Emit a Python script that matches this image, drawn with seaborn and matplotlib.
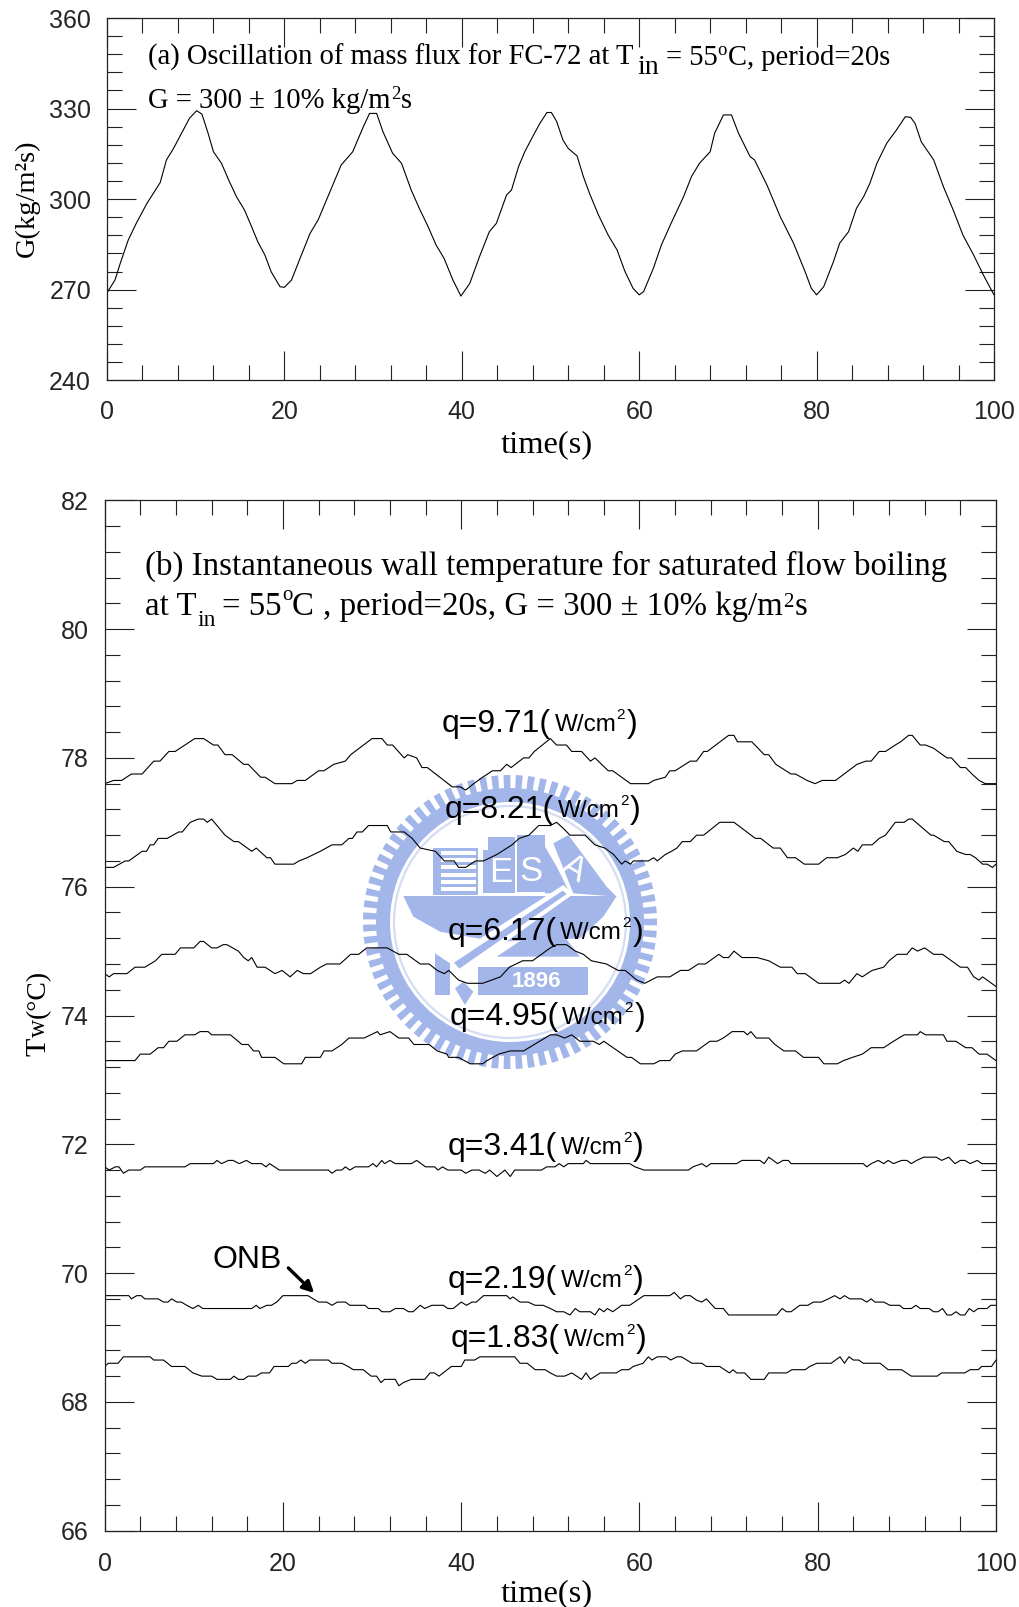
import numpy as np
import pandas as pd
import seaborn as sns
import matplotlib.pyplot as plt
from matplotlib.patches import Polygon, Wedge, Circle
from matplotlib.ticker import MultipleLocator

W, H = 1019, 1607

# (a) mass flux, time / G pairs
mass_flux = [(0,269),(.9,273.2),(1.5,278.8),(2.4,286.5),(3.3,292),(4.5,298.6),(6,305.5),(6.7,313),(7.5,316.8),(8.4,321.8),
    (9.3,326.8),(10.1,329.3),(10.7,328.2),(11.4,321.8),(12,315.7),(12.9,311.9),(13.8,305.8),(14.6,300.8),(15.5,296.4),
    (16.3,290.9),(17,285.9),(17.8,281.5),(18.5,276),(19.5,271),(20,270.8),(20.8,273.2),(21.7,279.9),(22.9,288.7),(23.8,293.1),
    (24.9,300.8),(26.4,311.3),(27.7,315.7),(28.9,324),(29.6,328.4),(30.4,328.4),(31.1,322.4),(32.2,315.2),(33.2,311.9),
    (34.3,303),(35.2,297),(36.2,290.9),(37.1,284.8),(38,280.4),(39,273.2),(39.9,267.9),(40.9,272.1),(42,281),(43.1,289.2),
    (43.9,292),(44.3,295.3),(45.05,301.4),(45.6,303),(46.4,310.8),(47.1,315.7),(48.1,321.3),(48.8,325.1),(49.6,328.7),(50.1,328.7),
    (50.7,325.7),(51.4,319.6),(52,316.8),(53,314.3),(53.7,307.5),(54.4,301.9),(55.4,294.8),(56.5,288.1),(57.5,283.2),(58.4,276),
    (59.3,270.5),(60,268.3),(60.5,269.4),(61.6,277.1),(62.5,284.8),(63.5,291.4),(65,300.8),(65.9,307.5),(66.8,311.9),(68,315.7),
    (68.5,321.8),(69.5,327.9),(70.4,327.9),(71.2,321.8),(72.5,314.1),(73,313),(74.4,304.7),(75.9,294.2),(77.4,285.4),(78.7,276),
    (79.4,270.5),(80,268.3),(80.8,271),(81.9,279.3),(82.6,285.4),(83.6,289.2),(84.5,297),(85.3,300.8),(86,305.2),(86.8,311.9),
    (87.9,318.5),(89,322.9),(90,327.3),(90.6,327.1),(91.1,325.1),(91.8,319),(93.2,313),(94.3,304.1),(95.4,296.4),(96.5,288.1),
    (97.7,281.5),(98.8,274.9),(100,268.3)]

# (b) wall temperature, time / Tw pairs for each heat flux
q971 = [(0,77.6),(1,77.65),(1.9,77.65),(3,77.75),(4.2,77.75),(5.5,77.95),(6.2,77.95),(7.2,78.1),(7.9,78.1),(10.1,78.3),(11.1,78.3),
    (12.2,78.2),(12.7,78.2),(13.5,78.05),(14.3,78.05),(15.6,77.9),(16.1,77.9),(17.5,77.7),(18,77.7),(19.1,77.6),(21,77.6),(21.6,77.65),
    (22.5,77.65),(24,77.8),(24.6,77.8),(25.7,77.9),(27,77.95),(27.6,78.05),(30,78.3),(31.1,78.3),(31.7,78.2),(32.3,78.2),(33.6,78.0),
    (34,78.05),(35,78.0),(35.6,77.85),(36.2,77.85),(39,77.55),(39.9,77.55),(40.5,77.5),(41.4,77.6),(42.4,77.7),(43.5,77.8),(44.4,77.8),
    (45.1,77.9),(45.6,77.85),(47,78.0),(47.6,78.0),(48.2,78.1),(50,78.3),(50.7,78.2),(51.8,78.2),(52.4,78.1),(53.5,78.1),(54.5,77.95),
    (55,78.0),(56.5,77.8),(57,77.8),(59,77.6),(61,77.6),(61.6,77.65),(62.9,77.7),(63.4,77.8),(64,77.8),(65.7,77.95),(66.4,77.95),
    (67.2,78.1),(67.6,78.1),(70,78.35),(70.6,78.35),(71,78.25),(72.6,78.25),(74,78.05),(74.5,78.05),(75.3,77.9),(77,77.75),(77.5,77.75),
    (78.8,77.65),(79.7,77.6),(80.5,77.65),(82,77.65),(84.4,77.9),(85.4,77.95),(86,77.95),(86.9,78.1),(87.6,78.1),(88.7,78.2),(89.3,78.25),
    (90.2,78.35),(90.6,78.35),(91.5,78.2),(92.1,78.2),(93,78.15),(94.5,78.0),(95,78.0),(96,77.85),(96.6,77.85),(97.3,77.75),(98.1,77.65),
    (98.8,77.6),(100,77.6)]
q821 = [(0,76.3),(1,76.3),(2.3,76.4),(2.7,76.4),(4.2,76.55),(4.7,76.55),(5.1,76.65),(5.5,76.65),(6,76.75),(7,76.75),(8.3,76.85),(8.7,76.85),
    (9.6,77.0),(10.5,77.05),(11.1,77.05),(11.5,77.0),(12,77.05),(13.5,76.8),(14.5,76.7),(15,76.7),(16.5,76.55),(17,76.6),(18.2,76.45),
    (18.6,76.45),(19.1,76.35),(21.2,76.35),(21.8,76.4),(22.7,76.45),(24.2,76.55),(25.5,76.65),(26.6,76.65),(27.4,76.75),(27.8,76.75),
    (28.3,76.85),(28.9,76.85),(29.6,76.95),(31.7,76.95),(32.1,76.85),(33.6,76.85),(34.5,76.75),(35.4,76.6),(37.1,76.55),(38.1,76.4),
    (39.2,76.4),(39.7,76.3),(40.5,76.3),(41.6,76.4),(42.5,76.4),(44,76.5),(45.7,76.65),(46.5,76.75),(47.6,76.8),(48.7,76.95),(50,76.95),
    (50.7,77.0),(51.5,76.9),(52.2,76.8),(53.9,76.8),(55,76.65),(56.1,76.6),(57.1,76.5),(58,76.35),(58.4,76.4),(59,76.35),(59.3,76.4),
    (61,76.4),(61.6,76.45),(62,76.4),(62.9,76.5),(63.6,76.55),(64.2,76.6),(64.8,76.7),(65.7,76.7),(66.4,76.8),(67.2,76.8),(69,77.0),
    (70.6,77.0),(73,76.75),(73.6,76.75),(75,76.6),(75.8,76.6),(76.6,76.45),(77.5,76.45),(78.5,76.35),(80.1,76.35),(81,76.45),(82.2,76.45),
    (83.1,76.5),(84,76.6),(84.5,76.55),(85,76.65),(86.1,76.65),(86.9,76.75),(87.6,76.8),(88.7,77.0),(89.7,77.0),(90.2,77.05),(90.6,77.05),
    (92.7,76.8),(93,76.8),(94.2,76.7),(94.7,76.7),(95.6,76.55),(96.6,76.5),(97.1,76.5),(97.7,76.45),(98.5,76.35),(99,76.35),(99.6,76.3),(100,76.35)]
q617 = [(0,74.65),(.5,74.6),(1,74.65),(2.5,74.65),(3.4,74.75),(4.5,74.75),(5.7,74.85),(6.4,74.95),(7.9,74.95),(8.5,75.05),(10,75.05),
    (10.7,75.15),(11.1,75.15),(12,75.05),(12.6,75.05),(13.3,75.1),(13.7,75.1),(15,75.0),(15.6,74.9),(16.1,74.85),(16.5,74.9),(17.1,74.75),
    (18,74.75),(19.1,74.65),(19.9,74.7),(20.8,74.6),(21.6,74.7),(22.3,74.65),(23.1,74.65),(24.2,74.75),(24.9,74.8),(26.4,74.8),(27.6,74.95),
    (28.5,74.95),(29.4,75.05),(31.7,75.05),(33,74.95),(33.9,74.95),(35.4,74.8),(36.4,74.8),(37.3,74.7),(38.1,74.65),(38.6,74.7),(39.7,74.55),
    (40.7,74.5),(42.4,74.5),(44.4,74.6),(45.4,74.75),(46.9,74.85),(48,74.85),(50,75.05),(50.7,75.1),(51.8,75.1),(52.8,75.0),(53.7,74.95),
    (54.6,74.85),(56.3,74.8),(57.6,74.7),(58.4,74.7),(59.7,74.55),(60.6,74.5),(62,74.6),(63.4,74.6),(64.6,74.7),(65.5,74.7),(66.6,74.8),
    (67.4,74.8),(68.9,74.95),(69.4,74.9),(70,74.9),(70.6,75.0),(71.5,74.9),(73.2,74.9),(74.5,74.85),(75.8,74.75),(77.1,74.75),(77.7,74.65),
    (78.6,74.65),(80.1,74.5),(82.5,74.5),(83,74.55),(83.5,74.5),(84.4,74.65),(85,74.6),(86.1,74.7),(87.4,74.75),(88,74.85),(88.9,74.95),
    (90,74.95),(90.6,75.05),(91.2,75.0),(92,75.05),(93,74.95),(94,74.95),(96,74.75),(96.8,74.75),(97.5,74.6),(98.1,74.55),(98.5,74.6),(100,74.45)]
q495 = [(0,73.3),(3.4,73.3),(4,73.4),(5.1,73.4),(6,73.5),(6.6,73.5),(7.2,73.6),(8.1,73.6),(9,73.7),(10.1,73.7),(10.7,73.75),(11.6,73.75),
    (12,73.7),(14.1,73.7),(15.4,73.55),(16.1,73.55),(16.7,73.45),(17.3,73.45),(17.6,73.35),(19.1,73.35),(20.1,73.25),(22.1,73.25),(22.5,73.35),
    (24.2,73.35),(24.6,73.45),(25.5,73.45),(26.6,73.55),(27.4,73.65),(29.1,73.65),(30.6,73.75),(30.9,73.7),(32,73.75),(33,73.65),(34.1,73.65),
    (34.7,73.55),(36.4,73.55),(37.3,73.45),(38.4,73.4),(38.6,73.35),(39.7,73.35),(41,73.25),(42.4,73.25),(42.9,73.3),(44.2,73.4),(45.5,73.45),
    (47,73.45),(48.2,73.55),(50,73.7),(50.7,73.7),(51.6,73.65),(52.4,73.7),(53.3,73.6),(53.9,73.6),(54.8,73.6),(55.5,73.55),(56,73.6),
    (58.6,73.35),(59.1,73.35),(60.1,73.25),(61.6,73.25),(62.3,73.3),(63.4,73.3),(64,73.4),(64.8,73.45),(66.4,73.45),(67.9,73.6),(68.7,73.6),
    (69.4,73.65),(70.4,73.75),(71.7,73.75),(72.1,73.7),(72.5,73.75),(73.1,73.65),(74.5,73.65),(75.2,73.55),(76.2,73.45),(77.5,73.45),(78.4,73.35),
    (80.1,73.35),(80.7,73.25),(82.2,73.25),(82.9,73.3),(83.9,73.35),(85,73.4),(86,73.5),(87.4,73.5),(88.5,73.6),(89.7,73.7),(91.2,73.7),
    (91.5,73.75),(92.1,73.7),(94.1,73.7),(94.5,73.6),(95.5,73.6),(96.6,73.5),(97.3,73.5),(98.1,73.4),(99,73.4),(100,73.3)]
q341 = [(0,71.65),(.5,71.6),(1.2,71.65),(1.6,71.65),(2.1,71.55),(2.7,71.6),(4,71.6),(4.5,71.65),(9,71.65),(9.6,71.7),(12.2,71.7),(12.6,71.75),
    (13.1,71.7),(13.9,71.75),(14.4,71.75),(15.1,71.7),(15.9,71.75),(16.5,71.7),(17.6,71.7),(18.1,71.65),(18.5,71.7),(19.6,71.6),(25.1,71.6),
    (25.5,71.55),(26,71.6),(26.6,71.6),(27,71.65),(27.5,71.6),(28.1,71.65),(29.6,71.65),(30.1,71.7),(30.5,71.65),(31.1,71.75),(31.4,71.7),
    (32,71.75),(32.6,71.7),(34.4,71.7),(35,71.75),(36,71.65),(37,71.65),(37.4,71.6),(37.9,71.65),(38.5,71.6),(40,71.6),(40.5,71.55),(41.2,71.6),
    (42,71.6),(42.7,71.55),(43.2,71.6),(44,71.5),(44.9,71.6),(45.5,71.5),(46,71.6),(46.6,71.6),(49,71.6),(49.6,71.65),(50.5,71.65),(51,71.7),
    (51.5,71.65),(52,71.7),(53.7,71.7),(54,71.75),(54.5,71.7),(58.9,71.7),(59.5,71.65),(60.5,71.6),(65.5,71.6),(66,71.65),(67,71.7),(67.5,71.65),
    (68,71.7),(70.9,71.7),(71.5,71.75),(73.5,71.75),(74,71.7),(74.5,71.8),(75.5,71.7),(76.1,71.75),(76.7,71.75),(77,71.7),(85.1,71.7),(85.5,71.65),
    (86,71.7),(86.8,71.75),(87.4,71.7),(87.9,71.75),(88.5,71.7),(89.4,71.75),(90,71.75),(90.5,71.7),(91.1,71.75),(91.9,71.8),(93.3,71.8),(93.9,71.75),
    (94.7,71.8),(95.4,71.7),(96,71.75),(96.5,71.75),(97.1,71.7),(97.9,71.75),(98.4,71.7),(100,71.7)]
q219 = [(0,69.65),(2.7,69.65),(3,69.6),(3.6,69.65),(4.1,69.65),(4.5,69.6),(6,69.6),(6.6,69.55),(7.1,69.55),(7.5,69.6),(8.1,69.55),(8.6,69.55),
    (9.2,69.5),(9.9,69.45),(10.5,69.5),(11,69.45),(16.5,69.45),(17,69.5),(17.4,69.45),(18.2,69.5),(18.7,69.5),(19.3,69.55),(20,69.65),(22.8,69.65),
    (24,69.55),(24.9,69.55),(25.5,69.5),(26.1,69.55),(27,69.55),(27.5,69.5),(29.2,69.5),(29.6,69.45),(30.7,69.45),(31.1,69.4),(32,69.4),(32.6,69.45),
    (33.5,69.45),(34.1,69.4),(34.6,69.4),(35.4,69.5),(35.9,69.45),(36.7,69.5),(38,69.5),(38.5,69.45),(39.1,69.45),(40,69.55),(40.6,69.5),(41.2,69.55),
    (41.7,69.55),(42.5,69.65),(45.1,69.65),(45.5,69.6),(45.8,69.63),(46.6,69.55),(47.5,69.55),(48.3,69.5),(49.2,69.5),(50,69.45),(50.7,69.4),(51.5,69.4),
    (52.2,69.35),(52.8,69.45),(53.3,69.4),(54.5,69.4),(55,69.35),(55.5,69.45),(56,69.4),(56.4,69.45),(57,69.4),(58,69.5),(58.9,69.5),(60.5,69.65),
    (63.4,69.65),(63.9,69.7),(64.6,69.6),(65.1,69.65),(65.7,69.65),(66.4,69.58),(67,69.55),(67.5,69.6),(68.5,69.45),(69.4,69.45),(70,69.35),(75.4,69.35),
    (76,69.45),(76.5,69.4),(77,69.4),(78,69.5),(78.9,69.5),(79.5,69.55),(80.4,69.55),(81.2,69.6),(81.9,69.65),(82.5,69.6),(83,69.65),(83.6,69.6),
    (84.9,69.6),(85.5,69.55),(86,69.6),(86.4,69.55),(87.4,69.55),(88.1,69.5),(89.2,69.5),(89.6,69.45),(90.5,69.45),(91,69.5),(91.5,69.45),(92.5,69.45),
    (93,69.4),(93.5,69.4),(94,69.45),(94.5,69.35),(95,69.35),(95.5,69.4),(96,69.35),(96.5,69.35),(97,69.45),(97.5,69.4),(98,69.45),(99,69.45),(99.4,69.5),(100,69.5)]
q183 = [(0,68.55),(.4,68.6),(1.5,68.6),(2.1,68.7),(5.1,68.7),(5.5,68.65),(6.6,68.65),(7.5,68.55),(9,68.55),(9.9,68.45),(10.9,68.4),(12,68.4),
    (12.6,68.35),(14.1,68.35),(14.5,68.4),(15,68.35),(15.6,68.35),(16.1,68.4),(17,68.4),(17.6,68.45),(18.5,68.45),(19,68.55),(20.6,68.55),(21,68.6),
    (21.5,68.6),(22,68.65),(22.5,68.6),(23,68.65),(25.1,68.65),(25.5,68.6),(26.6,68.6),(27.3,68.55),(27.9,68.5),(29,68.5),(29.9,68.4),(30.5,68.4),
    (31,68.3),(31.4,68.35),(32.6,68.35),(33,68.25),(33.5,68.3),(34.4,68.35),(35.9,68.35),(36.5,68.45),(37,68.45),(37.5,68.4),(38.9,68.55),(40,68.55),
    (40.4,68.65),(41.5,68.65),(42.1,68.7),(46,68.7),(46.6,68.6),(47.4,68.6),(48.3,68.5),(49.4,68.5),(50,68.45),(50.7,68.4),(51.6,68.4),(52.4,68.45),
    (53.5,68.35),(54,68.45),(54.5,68.35),(55.6,68.45),(57.4,68.45),(58,68.5),(58.8,68.5),(59.3,68.55),(60.4,68.6),(61,68.7),(61.4,68.65),(62,68.7),
    (63,68.7),(63.5,68.65),(64.2,68.7),(64.7,68.7),(65.9,68.6),(67,68.6),(67.5,68.55),(69,68.55),(70.1,68.45),(70.5,68.5),(70.9,68.45),(71.8,68.45),
    (72.5,68.35),(74,68.35),(74.5,68.45),(76.5,68.45),(77.1,68.5),(78.6,68.5),(79.1,68.55),(79.9,68.6),(81.5,68.6),(82.5,68.7),(83,68.6),(83.5,68.7),
    (84,68.65),(84.6,68.65),(85.1,68.6),(87,68.6),(87.9,68.5),(89.4,68.5),(90.5,68.4),(93.4,68.4),(93.9,68.45),(96.5,68.45),(97.1,68.5),(98,68.5),
    (98.4,68.55),(99.5,68.55),(100,68.65)]

series_b = [q971, q821, q617, q495, q341, q219, q183]
q_values = ["9.71", "8.21", "6.17", "4.95", "3.41", "2.19", "1.83"]
# left end and baseline of each q label, in pixels
label_pos = [(441.7, 731.7), (445, 818), (447.3, 940), (449.3, 1025), (448, 1155), (448, 1288), (451, 1347)]

sns.set_theme(style="ticks")
plt.rcParams["font.family"] = ["Liberation Sans"]
plt.rcParams["axes.edgecolor"] = "#222222"

fig = plt.figure(figsize=(W / 100, H / 100), dpi=100, facecolor="white")


def put(x, y, s, size, family="Liberation Serif", rot=0):
    fig.text(x / W, 1 - y / H, s, fontsize=size, family=family, ha="left", va="baseline",
             rotation=rot, rotation_mode="anchor", color="black", zorder=10)


def make_axes(left, right, top, bottom):
    ax = fig.add_axes([left / W, 1 - bottom / H, (right - left) / W, (bottom - top) / H])
    ax.patch.set_alpha(0)
    for s in ax.spines.values():
        s.set_linewidth(0.9)
    return ax


def style_ticks(ax, ymajor, yminor, ypad, xpad):
    ax.set_xlim(0, 100)
    ax.xaxis.set_major_locator(MultipleLocator(20))
    ax.xaxis.set_minor_locator(MultipleLocator(4))
    ax.yaxis.set_major_locator(MultipleLocator(ymajor))
    ax.yaxis.set_minor_locator(MultipleLocator(yminor))
    ax.tick_params(which="major", direction="in", length=21, width=0.8, top=True, right=True, labelsize=18, color="#222222")
    ax.tick_params(which="minor", direction="in", length=10.5, width=0.8, top=True, right=True, color="#222222")
    ax.tick_params(axis="y", which="major", pad=ypad)
    ax.tick_params(axis="x", which="major", pad=xpad)
    ax.set_xlabel("")
    ax.set_ylabel("")


# Watermark, drawn on a full page axes below the plots (coords are crop pixels)
logo = fig.add_axes([0, 0, 1, 1], zorder=-1)
logo.set_xlim(0, W)
logo.set_ylim(H, 0)
logo.axis("off")
blue = "#a3b6ea"
cx, cy = 510, 922


def z(pts):
    return [(340 + a / 3, 680 + b / 3) for a, b in pts]


def poly(pts, color=blue):
    logo.add_patch(Polygon(z(pts), closed=True, fc=color, ec="none"))


for ang in np.arange(0, 360, 4.8):
    logo.add_patch(Wedge((cx, cy), 147, ang - 1.35, ang + 1.35, width=16, fc=blue, ec="none"))
logo.add_patch(Wedge((cx, cy), 134, 0, 360, width=14, fc=blue, ec="none"))
logo.add_patch(Circle((cx, cy), 116, fc="none", ec="#d5ddf2", lw=1.6))
poly([(280, 505), (415, 505), (415, 645), (280, 645)])
for yy in range(512, 640, 22):
    poly([(302, yy), (408, yy), (408, yy + 12), (302, yy + 12)], "white")
poly([(430, 510), (445, 510), (445, 640), (430, 640)])
poly([(445, 470), (525, 470), (525, 640), (445, 640)])
poly([(530, 465), (615, 465), (615, 635), (530, 635)])
poly([(615, 500), (650, 560), (690, 640), (615, 640)])
poly([(640, 490), (685, 465), (800, 620), (830, 650), (700, 640)])
poly([(190, 648), (830, 648), (790, 710), (720, 775), (470, 785), (300, 755), (220, 710)])
poly([(470, 830), (720, 830), (650, 740), (560, 770)])
poly([(415, 860), (745, 860), (745, 945), (415, 945)])
poly([(285, 820), (330, 850), (330, 945), (285, 945)])
poly([(345, 925), (370, 905), (400, 935), (375, 975)])
poly([(320, 840), (670, 615), (700, 642), (362, 882)], "white")
poly([(342, 848), (668, 632), (680, 642), (358, 866)])
for (tx, ty, s, r) in [(482, 578, "E", 0), (572, 575, "S", 0), (700, 565, "A", -30)]:
    px, py = z([(tx, ty)])[0]
    logo.text(px, py, s, color="white", fontsize=25, family="Liberation Sans", ha="center", va="center", rotation=r)
px, py = z([(590, 905)])[0]
logo.text(px, py, "1896", color="white", fontsize=16, weight="bold", family="Liberation Sans", ha="center", va="center")

# (a) mass flux
ax_a = make_axes(107, 994, 18, 380.3)
df_a = pd.DataFrame(mass_flux, columns=["time", "G"])
sns.lineplot(data=df_a, x="time", y="G", ax=ax_a, color="black", lw=0.8, estimator=None, sort=False, errorbar=None)
ax_a.set_ylim(240, 360)
style_ticks(ax_a, 30, 6, 11.5, 14)

# (b) wall temperature
ax_b = make_axes(104.7, 996, 500.3, 1530.7)
for values, q in zip(series_b, q_values):
    df_b = pd.DataFrame(values, columns=["time", "Tw"])
    sns.lineplot(data=df_b, x="time", y="Tw", ax=ax_b, color="black", lw=0.8, estimator=None, sort=False, errorbar=None)
ax_b.set_ylim(66, 82)
style_ticks(ax_b, 2, 0.4, 11.5, 15)

ax_b.annotate("", xy=(23.5, 69.69), xytext=(20.6, 70.08),
              arrowprops=dict(arrowstyle="-|>", lw=2.4, color="black", mutation_scale=17, shrinkA=0, shrinkB=0))

# Panel (a) texts
put(148, 65, "(a) Oscillation of mass flux for FC-72 at T", 20.6)
put(637, 74, "in", 20)
put(666, 65, "= 55", 20.6)
put(717, 55, "o", 13.5)
put(728, 65, "C, period=20s", 20.6)
put(148, 108, "G = 300 ± 10% kg/m", 20.6)
put(391, 99, "2", 13.5)
put(401, 108, "s", 20.6)
put(34, 257, "G(kg/m²s)", 20.5, rot=90)
put(501, 452, "time(s)", 23.4)

# Panel (b) texts
put(145, 575, "(b) Instantaneous wall temperature for saturated flow boiling", 23.7)
put(145, 615, "at T", 23.7)
put(197, 626, "in", 17)
put(222, 615, "= 55", 23.7)
put(282, 600, "o", 15)
put(292, 615, "C", 23.7)
put(323, 615, ", period=20s, G = 300 ± 10% kg/m", 23.7)
put(783, 607, "2", 15)
put(795, 615, "s", 23.7)
put(45, 1056, "T", 21.6, rot=90)
put(45, 1037, "w", 18, rot=90)
put(45, 1018, "(°C)", 20, rot=90)
put(501, 1601, "time(s)", 23.4)
put(212, 1268, "ONB", 23, family="Liberation Sans")

for (x, y), q in zip(label_pos, q_values):
    put(x, y, "q=" + q + "(", 23, family="Liberation Sans")
    put(x + 113, y - 1, "W/cm", 17.5, family="Liberation Sans")
    put(x + 175, y - 13, "2", 11, family="Liberation Sans")
    put(x + 185, y, ")", 23, family="Liberation Sans")

plt.savefig("out.png", dpi=100)
